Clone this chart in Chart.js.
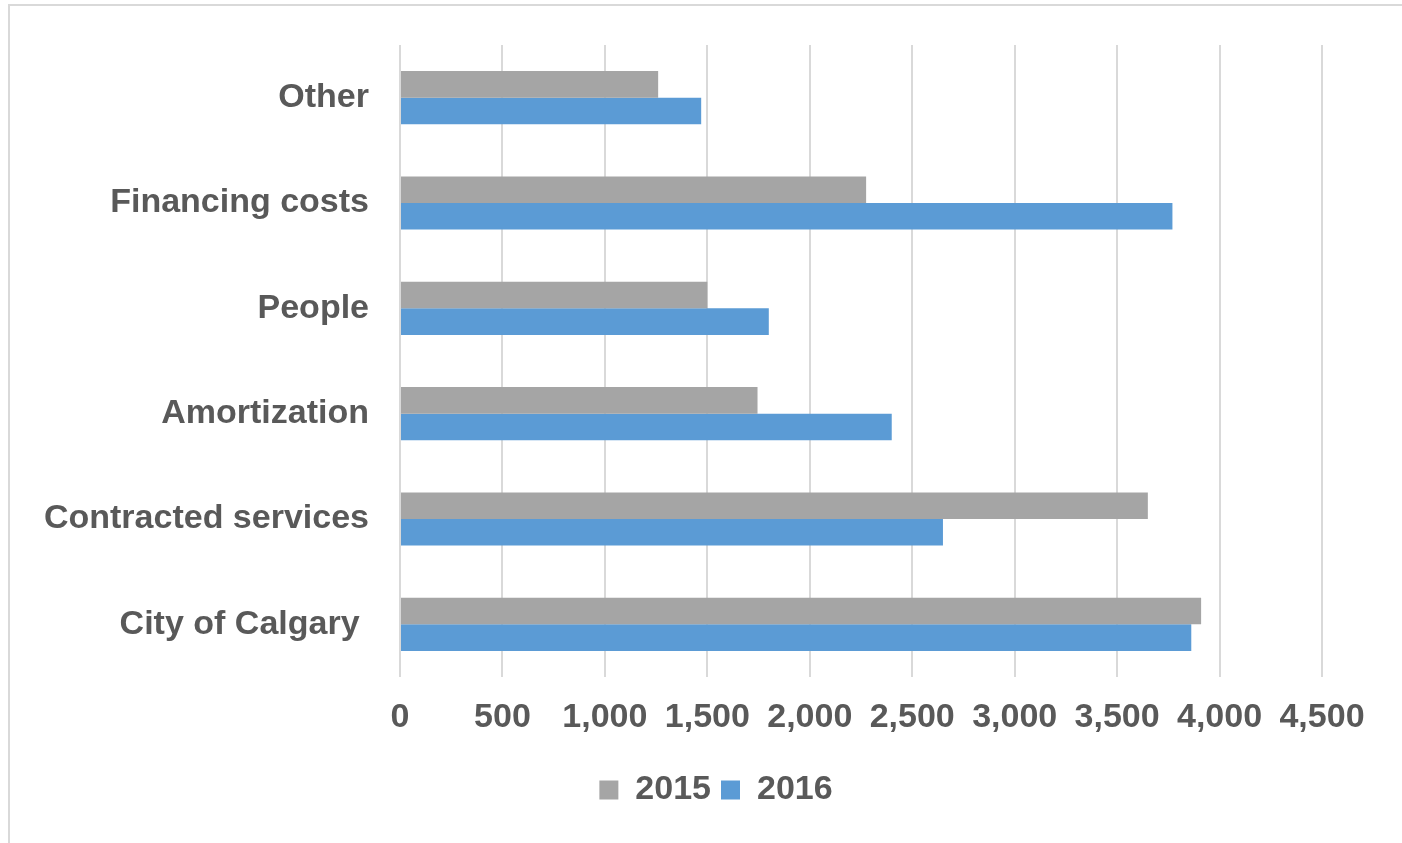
<!DOCTYPE html>
<html>
<head>
<meta charset="utf-8">
<script src="https://cdn.jsdelivr.net/npm/chart.js@4/dist/chart.umd.min.js"></script>
<style>
  html, body { margin: 0; padding: 0; background: #ffffff; }
  body { width: 1402px; height: 843px; overflow: hidden; position: relative; }
  #frame {
    position: absolute; left: 8px; top: 4px; width: 1500px; height: 900px;
    border-top: 2px solid #d9d9d9; border-left: 2px solid #d9d9d9;
    box-sizing: border-box;
  }
  #wrap { position: absolute; left: 0; top: 0; width: 1402px; height: 843px; }
</style>
</head>
<body>
<div id="frame"></div>
<div id="wrap"><canvas id="chart" width="1402" height="843"></canvas></div>
<script>
// Expense categories, top to bottom
const categories = ["Other", "Financing costs", "People", "Amortization", "Contracted services", "City of Calgary "];
const seriesNames = ["2015", "2016"];
const values2015 = [1260, 2275, 1500, 1745, 3650, 3910];
const values2016 = [1470, 3770, 1800, 2400, 2650, 3862];
const xTicks = [0, 500, 1000, 1500, 2000, 2500, 3000, 3500, 4000, 4500];

const textColor = "#595959";
const font = { family: "'Liberation Sans', Arial, sans-serif", size: 34, weight: "bold" };

new Chart(document.getElementById("chart"), {
  type: "bar",
  data: {
    labels: categories,
    datasets: [
      { label: seriesNames[0], data: values2015, backgroundColor: "#a5a5a5" },
      { label: seriesNames[1], data: values2016, backgroundColor: "#5b9bd5" }
    ]
  },
  options: {
    indexAxis: "y",
    responsive: false,
    animation: false,
    events: [],
    layout: { padding: { left: 110, right: 80, top: 45, bottom: 26 } },
    datasets: { bar: { categoryPercentage: 0.505, barPercentage: 1.0 } },
    scales: {
      x: {
        min: xTicks[0],
        max: xTicks[xTicks.length - 1],
        afterBuildTicks: (scale) => { scale.ticks = xTicks.map(v => ({ value: v })); },
        afterFit: (scale) => { scale.height = 86; },
        grid: { color: "#d9d9d9", lineWidth: 2, drawTicks: false },
        border: { display: false },
        ticks: {
          padding: 20,
          color: textColor,
          font: font,
          maxRotation: 0,
          autoSkip: false,
          callback: (v) => Number(v).toLocaleString("en-US")
        }
      },
      y: {
        afterFit: (scale) => {
          scale.width = 290;
          scale.paddingTop = 0;
          scale.paddingBottom = 0;
        },
        // let long category names extend past the axis box instead of being clipped
        afterUpdate: (scale) => { scale._computeLabelArea = () => null; },
        grid: { display: false, drawTicks: false },
        border: { display: false },
        ticks: { padding: 31, color: textColor, font: font, autoSkip: false }
      }
    },
    plugins: {
      legend: {
        position: "bottom",
        labels: {
          color: textColor,
          font: font,
          boxWidth: 19,
          boxHeight: 19,
          padding: 10
        }
      },
      tooltip: { enabled: false }
    }
  }
});
</script>
</body>
</html>
